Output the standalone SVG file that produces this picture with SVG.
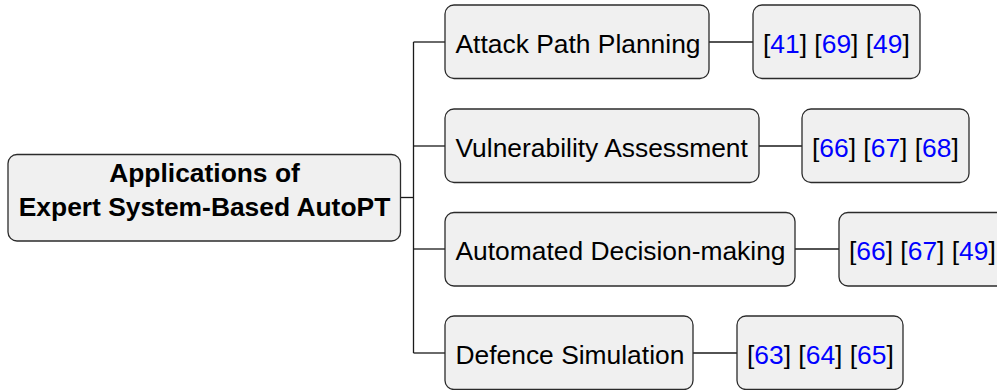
<svg xmlns="http://www.w3.org/2000/svg" width="997" height="390" viewBox="0 0 997 390">
  <style>
    .box { fill: #f0f0f0; stroke: #2b2b2b; stroke-width: 1.3; }
    .lbl { font-family: "Liberation Sans", Arial, sans-serif; font-size: 26.4px; fill: #000; }
    .root { font-weight: bold; text-anchor: middle; }
    .ref { fill: #0000ff; }
    .wire { fill: none; stroke: #1a1a1a; stroke-width: 1.3; }
  </style>

  <!-- connectors -->
  <g id="connectors" class="wire">
    <path d="M401 197.5 H413.5"/>
    <path d="M413.5 42 V353 "/>
    <path d="M413.5 42 H445"/>
    <path d="M413.5 146 H445"/>
    <path d="M413.5 249 H445"/>
    <path d="M413.5 353 H445"/>
    <path d="M709 42 H753"/>
    <path d="M759 146 H802"/>
    <path d="M795 249 H839"/>
    <path d="M693 353 H737"/>
  </g>

  <!-- root -->
  <g id="root">
    <rect class="box" x="8" y="154.5" width="392.5" height="86.5" rx="9"/>
    <text class="lbl root" x="204.5" y="182">Applications of</text>
    <text class="lbl root" x="204.5" y="216">Expert System-Based AutoPT</text>
  </g>

  <!-- application branches -->
  <g id="attack-path-planning">
    <rect class="box" x="445" y="5" width="264" height="73.5" rx="9"/>
    <text class="lbl" x="455.5" y="53">Attack Path Planning</text>
  </g>
  <g id="attack-path-planning-refs">
    <rect class="box" x="753" y="5" width="167" height="73.5" rx="9"/>
    <text class="lbl" x="763" y="53">[<tspan class="ref">41</tspan>] [<tspan class="ref">69</tspan>] [<tspan class="ref">49</tspan>]</text>
  </g>

  <g id="vulnerability-assessment">
    <rect class="box" x="445" y="109" width="314" height="73.5" rx="9"/>
    <text class="lbl" x="455.5" y="157">Vulnerability Assessment</text>
  </g>
  <g id="vulnerability-assessment-refs">
    <rect class="box" x="802" y="109" width="167" height="73.5" rx="9"/>
    <text class="lbl" x="812" y="157">[<tspan class="ref">66</tspan>] [<tspan class="ref">67</tspan>] [<tspan class="ref">68</tspan>]</text>
  </g>

  <g id="automated-decision-making">
    <rect class="box" x="445" y="212.5" width="350" height="73.5" rx="9"/>
    <text class="lbl" x="455.5" y="260">Automated Decision-making</text>
  </g>
  <g id="automated-decision-making-refs">
    <rect class="box" x="839" y="212.5" width="167" height="73.5" rx="9"/>
    <text class="lbl" x="849" y="260">[<tspan class="ref">66</tspan>] [<tspan class="ref">67</tspan>] [<tspan class="ref">49</tspan>]</text>
  </g>

  <g id="defence-simulation">
    <rect class="box" x="445" y="316" width="248" height="73.5" rx="9"/>
    <text class="lbl" x="455.5" y="364">Defence Simulation</text>
  </g>
  <g id="defence-simulation-refs">
    <rect class="box" x="737" y="316" width="166" height="73.5" rx="9"/>
    <text class="lbl" x="747" y="364">[<tspan class="ref">63</tspan>] [<tspan class="ref">64</tspan>] [<tspan class="ref">65</tspan>]</text>
  </g>
</svg>
